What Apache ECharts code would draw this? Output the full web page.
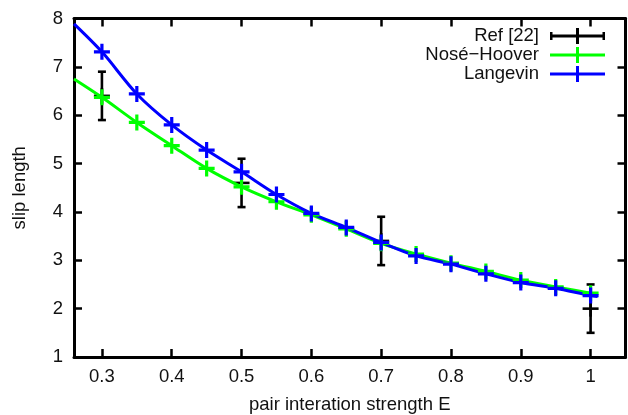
<!DOCTYPE html>
<html>
<head>
<meta charset="utf-8">
<script src="https://cdn.jsdelivr.net/npm/echarts@6/dist/echarts.min.js"></script>
<style>
html,body{margin:0;padding:0;background:#fff;}
#chart{width:628px;height:415px;}
</style>
</head>
<body>
<div id="chart"></div>
<script>
const energies = [0.3, 0.35, 0.4, 0.45, 0.5, 0.55, 0.6, 0.65, 0.7, 0.75, 0.8, 0.85, 0.9, 0.95, 1.0];
const noseHoover = [6.37, 5.85, 5.37, 4.90, 4.52, 4.21, 3.94, 3.65, 3.35, 3.13, 2.94, 2.77, 2.59, 2.45, 2.32];
const langevin = [7.31, 6.44, 5.80, 5.28, 4.83, 4.36, 3.97, 3.68, 3.37, 3.09, 2.92, 2.72, 2.54, 2.42, 2.27];
const curveEndsE = [0.26, 1.01];
const noseHooverEnds = [6.75, 2.29];
const langevinEnds = [7.89, 2.25];
const refE = [0.3, 0.5, 0.7, 1.0];
const refSlip = [6.4, 4.6, 3.4, 2.0];
const refErr = [0.5, 0.5, 0.5, 0.5];
const xTickValues = [0.3, 0.4, 0.5, 0.6, 0.7, 0.8, 0.9, 1.0];
const seriesNames = ['Ref [22]', 'Nosé\u2212Hoover', 'Langevin'];
const xName = 'pair interation strength E';
const yName = 'slip length';

const FONT = '"Liberation Sans", Arial, Helvetica, sans-serif';
const FS = 18.5;
const CROSS = 'path://M-1.6,-8H1.6V-1.6H8V1.6H1.6V8H-1.6V1.6H-8V-1.6H-1.6Z';
const ICON_LINE = 'path://M0,6.5H55V9.5H0Z M26,0H29V16H26Z';
const ICON_REF = 'path://M0,6.5H55V9.5H0Z M26,0H29V16H26Z M0,4H2.5V12H0Z M52.5,4H55V12H52.5Z';

function curveData(ys, ends) {
  const d = [{value: [curveEndsE[0], ends[0]], symbol: 'none'}];
  energies.forEach((e, i) => d.push([e, ys[i]]));
  d.push({value: [curveEndsE[1], ends[1]], symbol: 'none'});
  return d;
}

const chart = echarts.init(document.getElementById('chart'), null, {renderer: 'canvas'});
const axisLine = {show: true, lineStyle: {color: '#000', width: 3}};
const tick = {show: true, inside: true, length: 8, lineStyle: {color: '#000', width: 2.5}};

chart.setOption({
  animation: false,
  backgroundColor: '#fff',
  textStyle: {fontFamily: FONT},
  grid: {left: 74, right: 2.5, top: 18.5, bottom: 58, containLabel: false, outerBoundsMode: 'none'},
  legend: {
    orient: 'vertical',
    right: 23,
    top: 26.5,
    align: 'right',
    padding: 0,
    itemWidth: 55,
    itemHeight: 16,
    itemGap: 0,
    itemStyle: {borderWidth: 0},
    textStyle: {fontFamily: FONT, fontSize: FS, lineHeight: 16, color: '#111', padding: [0, 6, 0, 0]},
    data: [
      {name: seriesNames[0], icon: ICON_REF},
      {name: seriesNames[1], icon: ICON_LINE},
      {name: seriesNames[2], icon: ICON_LINE}
    ]
  },
  xAxis: [{
    type: 'value', position: 'bottom', min: 0.26, max: 1.05,
    name: xName, nameLocation: 'middle', nameGap: 38,
    nameTextStyle: {fontFamily: FONT, fontSize: FS, color: '#111'},
    axisLine: axisLine,
    axisTick: Object.assign({customValues: xTickValues}, tick),
    axisLabel: {customValues: xTickValues, fontFamily: FONT, fontSize: FS, color: '#111', margin: 10},
    splitLine: {show: false}
  }, {
    type: 'value', position: 'top', min: 0.26, max: 1.05,
    axisLine: axisLine,
    axisTick: Object.assign({customValues: xTickValues}, tick),
    axisLabel: {show: false},
    splitLine: {show: false}
  }],
  yAxis: [{
    type: 'value', position: 'left', min: 1, max: 8, interval: 1,
    name: yName, nameLocation: 'middle', nameGap: 45,
    nameTextStyle: {fontFamily: FONT, fontSize: FS, color: '#111'},
    axisLine: axisLine, axisTick: tick,
    axisLabel: {fontFamily: FONT, fontSize: FS, color: '#111', margin: 11},
    splitLine: {show: false}
  }, {
    type: 'value', position: 'right', min: 1, max: 8, interval: 1,
    axisLine: axisLine, axisTick: tick,
    axisLabel: {show: false},
    splitLine: {show: false}
  }],
  series: [{
    name: seriesNames[0],
    type: 'custom',
    itemStyle: {color: '#000'},
    data: refE.map((e, i) => [e, refSlip[i], refSlip[i] - refErr[i], refSlip[i] + refErr[i]]),
    renderItem: function (params, api) {
      const c = api.coord([api.value(0), api.value(1)]);
      const lo = api.coord([api.value(0), api.value(2)]);
      const hi = api.coord([api.value(0), api.value(3)]);
      const st = {stroke: '#000', lineWidth: 2.6};
      return {
        type: 'group',
        children: [
          {type: 'line', shape: {x1: lo[0], y1: lo[1], x2: hi[0], y2: hi[1]}, style: st},
          {type: 'line', shape: {x1: lo[0] - 4, y1: lo[1], x2: lo[0] + 4, y2: lo[1]}, style: st},
          {type: 'line', shape: {x1: hi[0] - 4, y1: hi[1], x2: hi[0] + 4, y2: hi[1]}, style: st},
          {type: 'line', shape: {x1: c[0] - 8, y1: c[1], x2: c[0] + 8, y2: c[1]}, style: st},
          {type: 'line', shape: {x1: c[0], y1: c[1] - 8, x2: c[0], y2: c[1] + 8}, style: st}
        ]
      };
    }
  }, {
    name: seriesNames[1],
    type: 'line',
    smooth: 0.3,
    symbol: CROSS,
    symbolSize: 16,
    showAllSymbol: true,
    itemStyle: {color: '#00ff00', borderWidth: 0},
    lineStyle: {color: '#00ff00', width: 3},
    data: curveData(noseHoover, noseHooverEnds)
  }, {
    name: seriesNames[2],
    type: 'line',
    smooth: 0.3,
    symbol: CROSS,
    symbolSize: 16,
    showAllSymbol: true,
    itemStyle: {color: '#0000ff', borderWidth: 0},
    lineStyle: {color: '#0000ff', width: 3},
    data: curveData(langevin, langevinEnds)
  }]
});
</script>
</body>
</html>
